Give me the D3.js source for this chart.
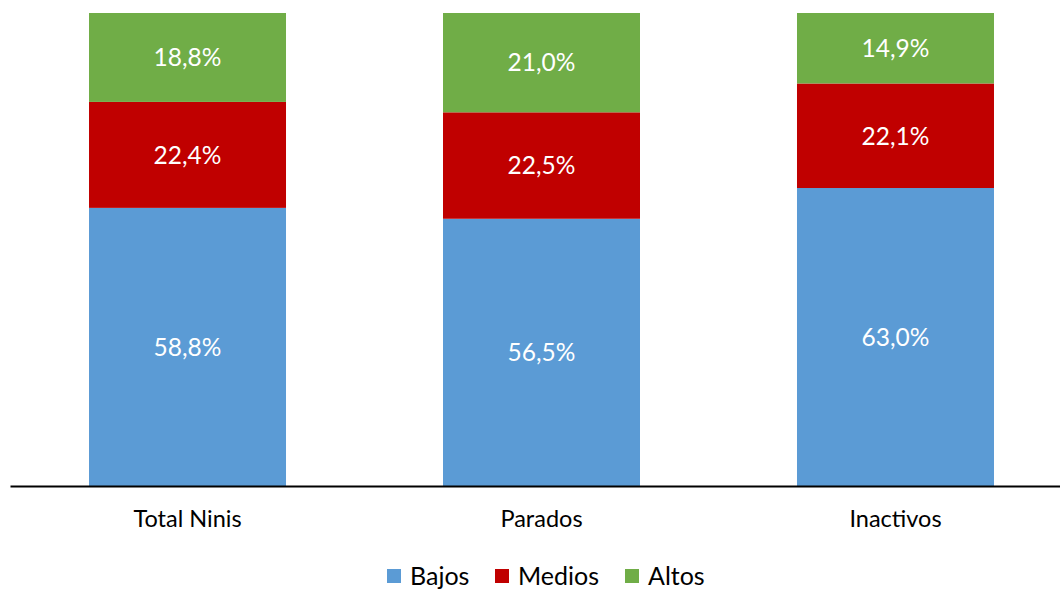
<!DOCTYPE html>
<html>
<head>
<meta charset="utf-8">
<script src="https://cdn.jsdelivr.net/npm/d3@7"></script>
<style>
  body { margin: 0; background: #fff; }
  svg { display: block; font-family: Lato, "Open Sans", sans-serif; }
</style>
</head>
<body>
<main></main>
<script>
const categories = ["Total Ninis", "Parados", "Inactivos"]
const seriesNames = ["Bajos", "Medios", "Altos"]
const bajos = [58.8, 56.5, 63.0]
const medios = [22.4, 22.5, 22.1]
const altos = [18.8, 21.0, 14.9]
const colors = ["#5B9BD5", "#C00000", "#70AD47"]

const w = 1060
const h = 589
const margin = { top: 13, right: 0, bottom: 103, left: 10 }

const svg = d3.select("main").append("svg").attr("width", w).attr("height", h)

const rows = categories.map((c, i) => ({ cat: c, Bajos: bajos[i], Medios: medios[i], Altos: altos[i] }))
const stacked = d3.stack().keys(seriesNames)(rows)

// plot area runs a bit past the right edge in the original
const x = d3.scaleBand().domain(categories).range([margin.left, 1073]).paddingInner(0.4435).paddingOuter(0.2232)
const y = d3.scaleLinear().domain([0, 100]).range([h - margin.bottom, margin.top])
const fmt = (v) => d3.format(".1f")(v).replace(".", ",") + "%"

const layer = svg.selectAll("g.layer")
  .data(stacked)
  .enter()
  .append("g")
  .attr("class", "layer")
  .attr("fill", (d, i) => colors[i])

layer.selectAll("rect")
  .data((d) => d)
  .enter()
  .append("rect")
  .attr("x", (d) => x(d.data.cat))
  .attr("y", (d) => y(d[1]))
  .attr("width", x.bandwidth())
  .attr("height", (d) => y(d[0]) - y(d[1]))

layer.selectAll("text")
  .data((d) => d.map((p) => ({ p: p, key: d.key })))
  .enter()
  .append("text")
  .attr("x", (d) => x(d.p.data.cat) + x.bandwidth() / 2)
  .attr("y", (d) => (y(d.p[0]) + y(d.p[1])) / 2)
  .attr("dy", "0.36em")
  .attr("text-anchor", "middle")
  .attr("fill", "#fff")
  .attr("font-size", "24.5px")
  .text((d) => fmt(d.p.data[d.key]))

// axis baseline and category labels
const xAxis = svg.append("g")
  .attr("transform", `translate(0, ${y(0)})`)
  .call(d3.axisBottom(x).tickSize(0).tickPadding(24))
xAxis.select(".domain").attr("stroke", "#000").attr("stroke-width", 2)
xAxis.selectAll("text").attr("font-size", "23.5px").attr("fill", "#000").attr("font-family", "Lato, 'Open Sans', sans-serif")

// legend
const legendX = [387, 495, 625]
const legend = svg.append("g").attr("id", "legend")
  .selectAll("g")
  .data(seriesNames)
  .enter()
  .append("g")
  .attr("transform", (d, i) => `translate(${legendX[i]}, 569)`)
legend.append("rect")
  .attr("width", 14)
  .attr("height", 14)
  .attr("fill", (d, i) => colors[i])
legend.append("text")
  .attr("x", 23)
  .attr("y", 7)
  .attr("dy", "0.36em")
  .attr("font-size", "25px")
  .attr("fill", "#000")
  .text((d) => d)
</script>
</body>
</html>
